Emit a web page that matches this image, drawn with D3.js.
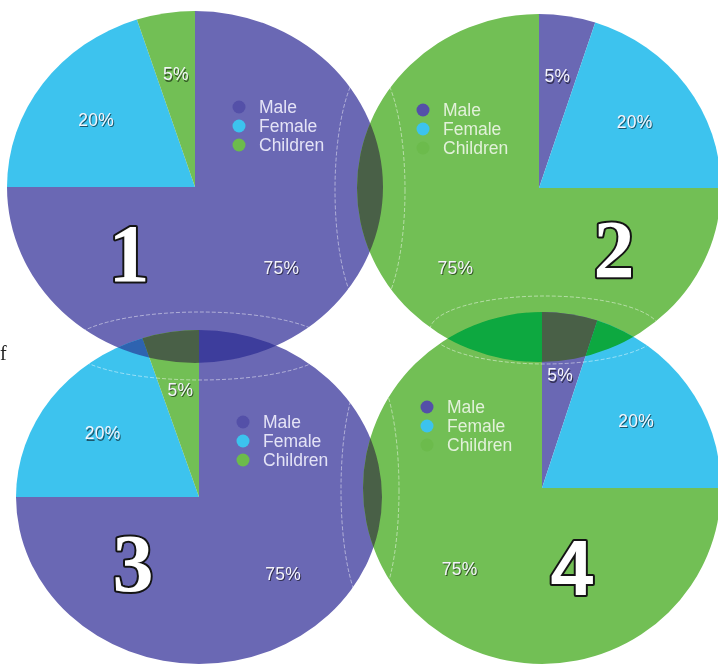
<!DOCTYPE html>
<html>
<head>
<meta charset="utf-8">
<script src="https://cdn.jsdelivr.net/npm/d3@7/dist/d3.min.js"></script>
<style>
  html, body { margin: 0; padding: 0; background: #ffffff; }
  svg { display: block; }
</style>
</head>
<body>
<svg id="chart" width="718" height="667"></svg>
<script>
// ---------------- data ----------------
const categories = ["Male", "Female", "Children"];
const chart1Values = [75, 20, 5];
const chart2Values = [5, 20, 75];
const chart3Values = [75, 20, 5];
const chart4Values = [5, 20, 75];
const chartNumbers = ["1", "2", "3", "4"];

// ---------------- styles / layout ----------------
const sliceColors = { Male: "#6b68b4", Female: "#3cc3ee", Children: "#72bf54" };
const dotColors = { Male: "#5450a8", Female: "#3cc3ee", Children: "#6cbb4c" };
const overlapColors = {
  "Male|Male": "#3d3d9c",
  "Female|Male": "#2e63b0",
  "Children|Male": "#4a6046",
  "Children|Children": "#0ba83f",
  "Children|Female": "#0ba83f",
  "Female|Female": "#1a90d0"
};

const pies = [
  { values: chart1Values, cx: 195, cy: 187, rx: 188, ry: 176, legend: [44, -80], textColor: "#e4e3f6",
    num: { x: 129, y: 281, font: "Liberation Serif, DejaVu Serif, serif", size: 82 } },
  { values: chart2Values, cx: 539, cy: 188, rx: 182, ry: 174, legend: [-116, -78], textColor: "#e2f1da",
    num: { x: 614, y: 277, font: "Liberation Serif, DejaVu Serif, serif", size: 82 } },
  { values: chart3Values, cx: 199, cy: 497, rx: 183, ry: 167, legend: [44, -75], textColor: "#e4e3f6",
    num: { x: 133, y: 591, font: "Liberation Serif, DejaVu Serif, serif", size: 82 } },
  { values: chart4Values, cx: 542, cy: 488, rx: 179, ry: 176, legend: [-115, -81], textColor: "#e2f1da",
    num: { x: 572, y: 595, font: "Liberation Sans, Arial, sans-serif", size: 77 } }
];
const overlapPairs = [[0, 1], [0, 2], [1, 3], [2, 3]];
const ghostEllipses = [
  { cx: 370, cy: 190, rx: 35, ry: 125 },
  { cx: 200, cy: 346, rx: 130, ry: 34 },
  { cx: 545, cy: 330, rx: 115, ry: 34 },
  { cx: 370, cy: 490, rx: 29, ry: 120 }
];

const svg = d3.select("#chart");
const defs = svg.append("defs");
defs.append("filter").attr("id", "soft")
  .attr("x", "-5%").attr("y", "-5%").attr("width", "110%").attr("height", "110%")
  .append("feGaussianBlur").attr("stdDeviation", 0.6);
defs.append("filter").attr("id", "shadowBlur")
  .append("feGaussianBlur").attr("stdDeviation", 0.7);

const R = 100;
const pieGen = d3.pie().sort(null).value(d => d.value);
const arc = d3.arc().innerRadius(0).outerRadius(R);
const labelArc = d3.arc().innerRadius(R * 0.65).outerRadius(R * 0.65);

pies.forEach((p, i) => {
  p.arcs = pieGen(categories.map((c, k) => ({ cat: c, value: p.values[k] })));
  p.transform = `translate(${p.cx},${p.cy}) scale(${p.rx / R},${p.ry / R})`;
  p.arcs.forEach((a, k) => {
    defs.append("clipPath").attr("id", `slice-${i}-${k}`)
      .append("path").attr("d", arc(a)).attr("transform", p.transform);
  });
});

const pieLayer = svg.append("g").attr("filter", "url(#soft)");

// base pies
pies.forEach(p => {
  pieLayer.append("g").attr("transform", p.transform)
    .selectAll("path").data(p.arcs).join("path")
    .attr("d", arc)
    .attr("fill", d => sliceColors[d.data.cat]);
});

// overlapping lenses
overlapPairs.forEach(([i, j]) => {
  const A = pies[i], B = pies[j];
  A.arcs.forEach((a, k) => {
    const g = pieLayer.append("g").attr("clip-path", `url(#slice-${i}-${k})`);
    g.append("g").attr("transform", B.transform)
      .selectAll("path").data(B.arcs).join("path")
      .attr("d", arc)
      .attr("fill", d => overlapColors[[a.data.cat, d.data.cat].sort().join("|")]);
  });
});

// ghost outlines
svg.append("g").selectAll("ellipse").data(ghostEllipses).join("ellipse")
  .attr("cx", d => d.cx).attr("cy", d => d.cy)
  .attr("rx", d => d.rx).attr("ry", d => d.ry)
  .attr("fill", "none")
  .attr("stroke", "#ffffff")
  .attr("stroke-opacity", 0.6)
  .attr("stroke-width", 0.8)
  .attr("stroke-dasharray", "4,2");

// percent labels
pies.forEach(p => {
  const g = svg.append("g");
  p.arcs.forEach(a => {
    const [ux, uy] = labelArc.centroid(a);
    const x = p.cx + ux * p.rx / R;
    const y = p.cy + uy * p.ry / R;
    const shadowCol = d3.color(sliceColors[a.data.cat]).darker(2.2);
    g.append("text").attr("x", x + 1).attr("y", y + 7.5)
      .attr("text-anchor", "middle")
      .attr("font-family", "Liberation Sans, Arial, sans-serif")
      .attr("font-size", 17.5)
      .attr("letter-spacing", 0.3)
      .attr("fill", shadowCol).attr("filter", "url(#shadowBlur)")
      .text(a.data.value + "%");
    g.append("text").attr("x", x).attr("y", y + 6)
      .attr("text-anchor", "middle")
      .attr("font-family", "Liberation Sans, Arial, sans-serif")
      .attr("font-size", 17.5)
      .attr("letter-spacing", 0.3)
      .attr("fill", "#f4f4fb")
      .text(a.data.value + "%");
  });
});

// legends
pies.forEach(p => {
  const lx = p.cx + p.legend[0], ly = p.cy + p.legend[1];
  const g = svg.append("g").attr("transform", `translate(${lx},${ly})`);
  categories.forEach((c, k) => {
    g.append("circle").attr("cx", 0).attr("cy", k * 19).attr("r", 6.5)
      .attr("fill", dotColors[c]);
    g.append("text").attr("x", 20).attr("y", k * 19 + 6)
      .attr("font-family", "Liberation Sans, Arial, sans-serif")
      .attr("font-size", 17.5)
      .attr("fill", p.textColor)
      .text(c);
  });
});

// big chart numbers
pies.forEach((p, i) => {
  svg.append("text")
    .attr("x", p.num.x).attr("y", p.num.y)
    .attr("text-anchor", "middle")
    .attr("font-family", p.num.font)
    .attr("font-weight", "bold")
    .attr("font-size", p.num.size)
    .attr("fill", "#ffffff")
    .attr("stroke", "#141414")
    .attr("stroke-width", 4)
    .attr("stroke-linejoin", "round")
    .attr("paint-order", "stroke")
    .text(chartNumbers[i]);
});

// small stray mark at left edge
svg.append("text").attr("x", 0).attr("y", 360)
  .attr("font-family", "Liberation Serif, serif")
  .attr("font-size", 20).attr("fill", "#222")
  .text("f");
</script>
</body>
</html>
